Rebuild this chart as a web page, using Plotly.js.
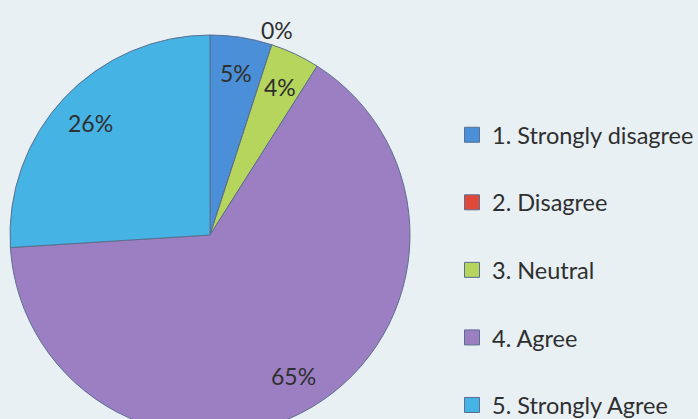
<!DOCTYPE html>
<html>
<head>
<meta charset="utf-8">
<script src="https://cdn.plot.ly/plotly-3.0.1.min.js"></script>
<style>
html,body{margin:0;padding:0;overflow:hidden;background:#e8f0f4;}
#chart{width:698px;height:470px;}
</style>
</head>
<body>
<div id="chart"></div>
<script>
const categories = ["1. Strongly disagree", "2. Disagree", "3. Neutral", "4. Agree", "5. Strongly Agree"];
const values = [5, 0, 4, 65, 26];
const colors = ["#4a8fd8", "#e0483a", "#b5d55c", "#9c7fc2", "#45b3e3"];

const H = 470, W = 698;
// pie placement (pixels, layout only)
const CX = 210, CY = 235, R = 200;
const FONT = "Lato, 'Open Sans', sans-serif";
const TXT = "#2f2f2f";

const pie = {
  type: "pie",
  labels: categories,
  values: values,
  sort: false,
  direction: "clockwise",
  rotation: 0,
  showlegend: false,
  marker: {colors: colors, line: {color: "#5b6f90", width: 1}},
  textinfo: "none",
  hoverinfo: "label+percent",
  domain: {x: [(CX - R) / W, (CX + R) / W], y: [(H - CY - R) / H, (H - CY + R) / H]}
};

// data labels placed along each slice's mid-angle (derived from values)
const total = values.reduce((a, b) => a + b, 0);
let cum = 0;
const annotations = values.map((v) => {
  const mid = (cum + v / 2) / total * 2 * Math.PI;
  cum += v;
  const f = v === 0 ? 1.08 : 0.82;
  const px = CX + f * R * Math.sin(mid);
  const py = CY - f * R * Math.cos(mid);
  return {
    x: px / W, y: (H - py) / H, xref: "paper", yref: "paper",
    xanchor: "center", yanchor: "middle", showarrow: false,
    text: Math.round(v / total * 100) + "%",
    font: {family: FONT, size: 23, color: TXT}
  };
});

const legendTraces = categories.map((c, i) => ({
  type: "scatter",
  mode: "markers",
  x: [null], y: [null],
  name: c,
  legendgroup: "g" + i,
  showlegend: true,
  marker: {symbol: "square", size: 15, color: colors[i], line: {color: "#5b6f90", width: 1}},
  hoverinfo: "skip"
}));

const layout = {
  width: W, height: H,
  margin: {l: 0, r: 0, t: 0, b: 0, autoexpand: false},
  paper_bgcolor: "#e8f0f4",
  plot_bgcolor: "rgba(0,0,0,0)",
  xaxis: {visible: false},
  yaxis: {visible: false},
  showlegend: true,
  annotations: annotations,
  legend: {
    x: 452 / W, xanchor: "left",
    y: (H - 113) / H, yanchor: "top",
    font: {family: FONT, size: 23.5, color: TXT},
    tracegroupgap: 34,
    bgcolor: "rgba(0,0,0,0)",
    itemclick: false
  }
};

Plotly.newPlot("chart", [pie].concat(legendTraces), layout, {displayModeBar: false, staticPlot: true});
</script>
</body>
</html>
